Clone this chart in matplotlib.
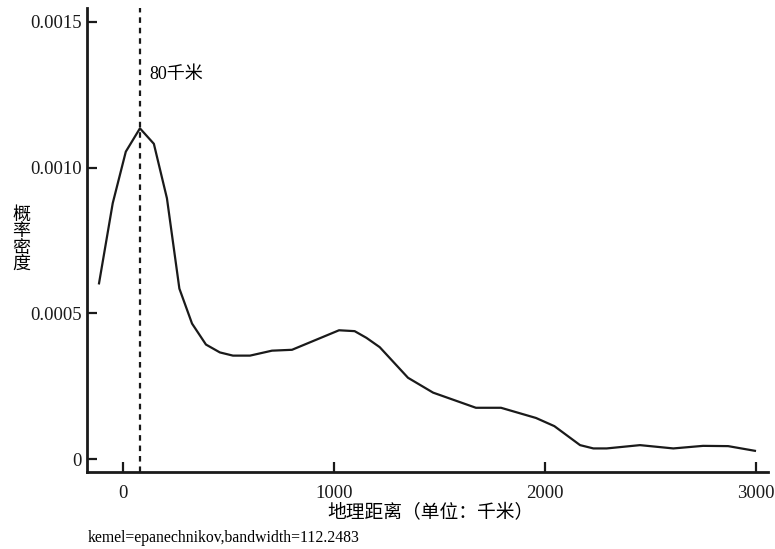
import numpy as np
import matplotlib
matplotlib.use('Agg')
import matplotlib.pyplot as plt

# KDE curve vertices
dist_km = [-115, -50, 12, 79, 145, 207, 266, 326, 392, 458, 520, 601, 705, 800,
           1023, 1097, 1153, 1216, 1350, 1469, 1672, 1791, 1957, 2044, 2166, 2229,
           2292, 2450, 2608, 2749, 2868, 2995]
density = [0.000603, 0.000878, 0.001055, 0.001135, 0.001082, 0.000895, 0.000585,
           0.000465, 0.000393, 0.000366, 0.000355, 0.000355, 0.000372, 0.000375,
           0.000442, 0.000439, 0.000416, 0.000384, 0.000279, 0.000228, 0.000176,
           0.000176, 0.000141, 0.000113, 0.0000478, 0.0000365, 0.0000365,
           0.0000478, 0.0000365, 0.0000453, 0.0000444, 0.0000283]
peak_km = 80
peak_label = '80千米'
x_ticks = [0, 1000, 2000, 3000]
y_ticks = [0, 0.0005, 0.0010, 0.0015]
y_tick_labels = ['0', '0.0005', '0.0010', '0.0015']
x_title = '地理距离（单位：千米）'
y_title = '概率密度'
note = 'kemel=epanechnikov,bandwidth=112.2483'

fonts = ['Liberation Serif', 'Noto Sans CJK SC', 'DejaVu Sans']
plt.rcParams['font.family'] = fonts

fig = plt.figure(figsize=(7.75, 5.49), dpi=100)
ax = fig.add_axes([87 / 775, 1 - 472 / 549, (768 - 87) / 775, (472 - 8) / 549])

ax.plot(dist_km, density, color='#1a1a1a', linewidth=1.6)
ax.axvline(peak_km, color='#1a1a1a', linestyle=(0, (2.5, 2.2)), linewidth=1.6)
ax.text(peak_km + 45, 0.00132, peak_label, fontsize=13, va='center', ha='left')

ax.set_xlim(-172, 3057)
ax.set_ylim(-0.0000444, 0.001548)
ax.set_xticks(x_ticks)
ax.set_xticklabels([str(v) for v in x_ticks])
ax.set_yticks(y_ticks)
ax.set_yticklabels(y_tick_labels)
ax.tick_params(direction='in', length=7, width=1.6, labelsize=13.5, colors='#1a1a1a')
ax.tick_params(axis='x', pad=9)
ax.tick_params(axis='y', pad=4)

for s in ['top', 'right']:
    ax.spines[s].set_visible(False)
for s in ['left', 'bottom']:
    ax.spines[s].set_linewidth(2)
    ax.spines[s].set_color('#1a1a1a')

fig.text(430 / 775, 1 - 513 / 549, x_title, fontsize=13.5, ha='center', va='center')
fig.text(21 / 775, 1 - 240 / 549, '\n'.join(y_title), fontsize=13, ha='center',
         va='center', linespacing=0.95)
fig.text(88 / 775, 1 - 538 / 549, note, fontsize=11.3, ha='left', va='center')

fig.savefig('out.png', dpi=100)
